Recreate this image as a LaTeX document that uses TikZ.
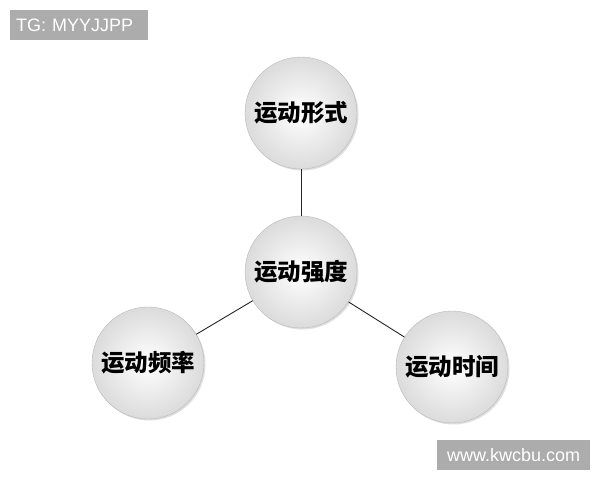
\documentclass[tikz,border=0pt]{standalone}
\usepackage{fontspec}
\setmainfont{Liberation Sans}
\newfontfamily\cjk{Noto Sans CJK SC}
\usepackage{tikz}
\usetikzlibrary{positioning,shadows,calc}
\tikzstyle{nS}=[circle,minimum size = 112pt,inner sep = 0pt,draw=gray!55, thin, inner color=white, outer color=gray!28, font=\cjk\bfseries\fontsize{23.5pt}{24pt}\selectfont, drop shadow={opacity=0.25, shadow xshift=1.5pt, shadow yshift=-1.5pt}]
\tikzstyle{eBlack}=[draw=black!85, line width=0.9pt]
\tikzstyle{wM}=[fill=gray!65, text=white, inner sep = 0pt, font=\fontsize{18pt}{18pt}\selectfont, anchor=north west]
\begin{document}
\begin{tikzpicture}[x=1pt,y=-1pt]
                \useasboundingbox (0,0) rectangle (600,480);
                \fill[white] (0,0) rectangle (600,480);

                \draw (301,113) node[nS] (n0) {运动形式}; 
                \draw (301,272) node[nS] (n1) {运动强度};
                \draw (148,363) node[nS] (n2) {运动频率};
                \draw (452,367) node[nS] (n3) {运动时间};
                \path
                    (n1) edge[eBlack] (n0) 
                    (n1) edge[eBlack] (n2) 
                    (n1) edge[eBlack] (n3)
                ;

                \draw (10,10) node[wM, minimum width=138pt, minimum height=30pt, text width=138pt, align=left] (tg) {\hspace{6pt}TG: MYYJJPP}; 
                \draw (437,440) node[wM, minimum width=153pt, minimum height=30pt, align=center] (url) {www.kwcbu.com}; 

        \end{tikzpicture}
\end{document}
